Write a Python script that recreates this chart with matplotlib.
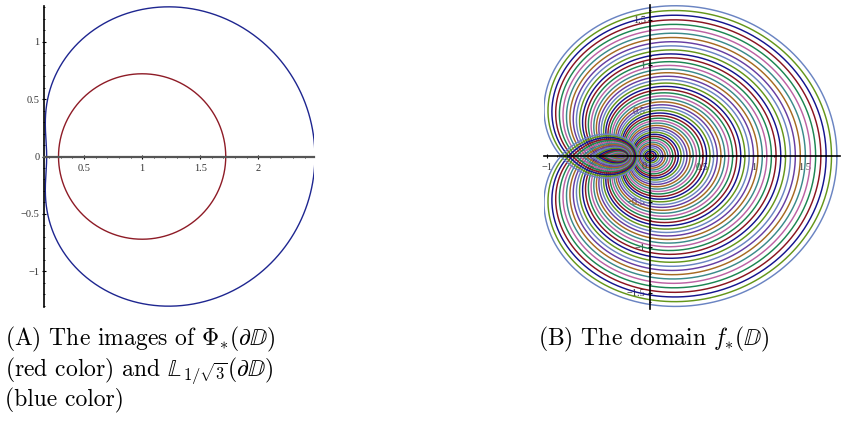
import numpy as np
import matplotlib
matplotlib.use("Agg")
import matplotlib.pyplot as plt
from matplotlib.ticker import MultipleLocator

plt.rcParams["mathtext.fontset"] = "cm"
plt.rcParams["font.family"] = ["Liberation Serif", "DejaVu Serif"]

# panel A: boundary curves as polynomial coefficients in z (z^0, z^1, ...), |z| = 1
red_coeffs = [1.0, 0.72]              # Phi_*(dD)
blue_coeffs = [1.0, 1.155, 0.333]     # L_{1/sqrt3}(dD) = (1 + z/sqrt3)^2

# panel B: f_*(z) coefficients and the radii of the circles |z| = r that are mapped
f_coeffs = [0.0, 0.915, 0.905, 0.05, -0.06]
radii = [0.02, 0.04, 0.06, 0.08, 0.10, 0.12, 0.14, 0.16, 0.18, 0.20,
         0.22, 0.24, 0.26, 0.28, 0.30, 0.32, 0.34, 0.36, 0.38, 0.40,
         0.42, 0.44, 0.46, 0.48, 0.50, 0.52, 0.54, 0.56, 0.58, 0.60,
         0.62, 0.64, 0.66, 0.68, 0.70, 0.72, 0.74, 0.76, 0.78, 0.80,
         0.82, 0.84, 0.86, 0.88, 0.90, 0.92, 0.94, 0.96, 0.98, 1.00]
# colour cycle starting from the outermost curve going inwards
ring_colors = ["#6a84c2", "#64961a", "#14148e", "#8a1420", "#1c8652",
               "#bc62a4", "#3a8a8a", "#a66a22", "#663ea2"]

a_xticks = [0.5, 1, 1.5, 2]
a_yticks = [-1, -0.5, 0, 0.5, 1]
b_xticks = [-1, -0.5, 0.5, 1, 1.5]
b_yticks = [-1.5, -1, -0.5, 0.5, 1, 1.5]


def poly(coeffs, z):
    return np.polyval(coeffs[::-1], z)


t = np.linspace(0, 2 * np.pi, 1200)
unit = np.exp(1j * t)

W, H = 841, 421
fig = plt.figure(figsize=(W / 100, H / 100), dpi=100)


def px_axes(x0, x1, y0, y1):
    return fig.add_axes([x0 / W, 1 - y1 / H, (x1 - x0) / W, (y1 - y0) / H])


def fmt(v):
    return ("%g" % v).replace("-", "\u2212")


tick_col = "#333333"

# ---------------- panel A ----------------
ax1 = px_axes(44, 314, 6, 307)
zr = poly(red_coeffs, unit)
zb = poly(blue_coeffs, unit)
ax1.plot(zr.real, zr.imag, color="#8e1b26", lw=1.0)
ax1.plot(zb.real, zb.imag, color="#1e2690", lw=1.0)
ax1.set_xlim(0.155, 2.48)
ax1.set_ylim(-1.31, 1.31)
ax1.spines["top"].set_visible(False)
ax1.spines["right"].set_visible(False)
ax1.spines["bottom"].set_position(("data", 0))
ax1.spines["bottom"].set_color("#555555")
ax1.spines["bottom"].set_linewidth(1.6)
ax1.spines["left"].set_linewidth(1.2)
ax1.set_xticks(a_xticks)
ax1.set_xticklabels([fmt(v) for v in a_xticks])
ax1.set_yticks(a_yticks)
ax1.set_yticklabels([fmt(v) for v in a_yticks])
ax1.xaxis.set_minor_locator(MultipleLocator(0.1))
ax1.yaxis.set_minor_locator(MultipleLocator(0.1))
ax1.tick_params(which="major", length=3.5, width=0.8, direction="inout",
                labelsize=7.5, labelcolor=tick_col, pad=1.5)
ax1.tick_params(axis="x", which="major", pad=3.5)
ax1.tick_params(which="minor", length=2.0, width=0.6, direction="inout")
ax1.patch.set_visible(False)

# ---------------- panel B ----------------
ax2 = px_axes(544, 840, 5, 309)
n = len(radii)
for i, r in enumerate(radii):
    w = poly(f_coeffs, r * unit)
    c = ring_colors[(n - 1 - i) % len(ring_colors)]
    ax2.plot(w.real, w.imag, color=c, lw=1.05)
ax2.set_xlim(-1.03, 1.84)
ax2.set_ylim(-1.68, 1.66)
for s in ["top", "right"]:
    ax2.spines[s].set_visible(False)
ax2.spines["left"].set_position(("data", 0))
ax2.spines["bottom"].set_position(("data", 0))
ax2.spines["left"].set_linewidth(1.2)
ax2.spines["bottom"].set_linewidth(1.2)
ax2.set_xticks(b_xticks)
ax2.set_xticklabels([fmt(v) for v in b_xticks])
ax2.set_yticks(b_yticks)
ax2.set_yticklabels([fmt(v) for v in b_yticks])
ax2.xaxis.set_minor_locator(MultipleLocator(0.1))
ax2.yaxis.set_minor_locator(MultipleLocator(0.1))
ax2.tick_params(which="major", length=3.5, width=0.8, direction="inout",
                labelsize=7.5, labelcolor=tick_col, pad=1.5)
ax2.tick_params(axis="x", which="major", pad=3.5)
ax2.tick_params(which="minor", length=2.0, width=0.6, direction="inout")
ax2.text(-0.03, -0.06, "0", ha="right", va="top", fontsize=7.5, color=tick_col)
for lab in ax2.get_xticklabels() + ax2.get_yticklabels():
    lab.set_zorder(5)
ax2.patch.set_visible(False)

# ---------------- captions ----------------
cap = dict(fontsize=17, va="baseline", ha="left", family="cmr10")
fig.text(5 / W, 1 - 345 / H, r"(A) The images of $\Phi_{\ast}(\partial\mathbb{D})$", **cap)
fig.text(5 / W, 1 - 376 / H, r"(red color) and $\mathbb{L}_{1/\sqrt{3}}(\partial\mathbb{D})$", **cap)
fig.text(5 / W, 1 - 406 / H, "(blue color)", **cap)
fig.text(538 / W, 1 - 345 / H, r"(B) The domain $f_{\ast}(\mathbb{D})$", **cap)

fig.savefig("out.png", dpi=100)
